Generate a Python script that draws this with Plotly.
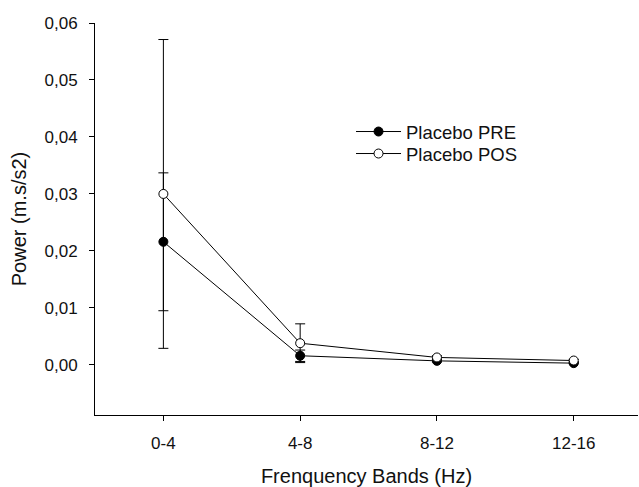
import plotly.graph_objects as go

bands = ["0-4", "4-8", "8-12", "12-16"]
pre_mean = [0.0216, 0.0016, 0.0007, 0.0003]
pre_err = [0.0121, 0.0010, 0.0002, 0.0001]
pos_mean = [0.0300, 0.0038, 0.0013, 0.00076]
pos_err = [0.0271, 0.0034, 0.0003, 0.0002]
y_ticks = [0.00, 0.01, 0.02, 0.03, 0.04, 0.05, 0.06]

xpos = list(range(len(bands)))
FONT = "Arial, Liberation Sans, sans-serif"

fig = go.Figure()
fig.add_trace(go.Scatter(
    x=xpos, y=pre_mean, name="Placebo PRE", mode="lines+markers",
    line=dict(color="black", width=1),
    marker=dict(symbol="circle", size=9, color="black", line=dict(color="black", width=1)),
    error_y=dict(type="data", array=pre_err, color="black", thickness=1, width=5),
    legend="legend",
))
fig.add_trace(go.Scatter(
    x=xpos, y=pos_mean, name="Placebo POS", mode="lines+markers",
    line=dict(color="black", width=1),
    marker=dict(symbol="circle", size=9, color="white", line=dict(color="black", width=1)),
    error_y=dict(type="data", array=pos_err, color="black", thickness=1, width=5),
    legend="legend2",
))

leg_common = dict(xanchor="left", yanchor="top", bgcolor="rgba(0,0,0,0)",
                  font=dict(size=18.5), itemwidth=45)

fig.update_layout(
    width=639, height=487,
    margin=dict(l=95, r=1, t=23, b=72, autoexpand=False),
    paper_bgcolor="white", plot_bgcolor="white",
    separators=",.",
    font=dict(family=FONT, size=17, color="#111111"),
    showlegend=True,
    legend=dict(x=0.4715, y=0.7704, **leg_common),
    legend2=dict(x=0.4715, y=0.7143, **leg_common),
    xaxis=dict(
        range=[-0.5, 3.47], tickmode="array", tickvals=xpos, ticktext=bands,
        showline=True, linecolor="black", linewidth=1, showgrid=False, zeroline=False,
        ticks="outside", ticklen=5, tickcolor="black", automargin=False,
        ticklabelstandoff=8,
        title=dict(text="Frenquency Bands (Hz)", standoff=16),
    ),
    yaxis=dict(
        range=[-0.0088, 0.06], tickmode="array", tickvals=y_ticks, tickformat=".2f",
        showline=True, linecolor="black", linewidth=1, showgrid=False, zeroline=False,
        ticks="outside", ticklen=5, tickcolor="black", ticklabelstandoff=8, automargin=False,
        title=dict(text="Power (m.s/s2)", standoff=12),
    ),
)

fig.write_html("out.html", config={"displayModeBar": False},
               post_script="document.body.style.margin='0';")
